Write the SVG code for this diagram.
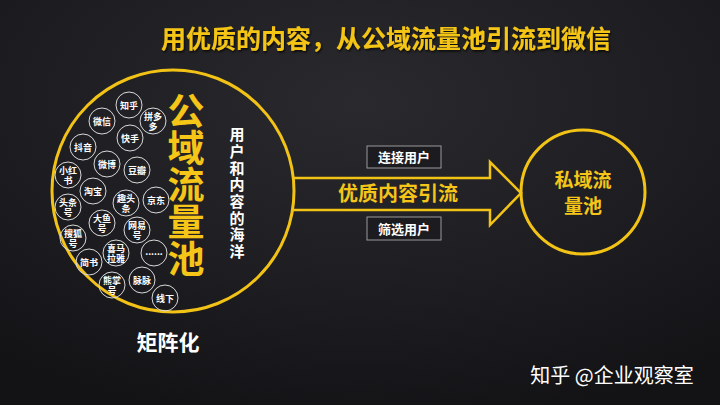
<svg xmlns="http://www.w3.org/2000/svg" width="720" height="405" viewBox="0 0 720 405">
<defs>
<radialGradient id="bg" cx="0.5" cy="0.25" r="0.8">
<stop offset="0" stop-color="#2a2a2e"/>
<stop offset="0.6" stop-color="#1d1d21"/>
<stop offset="1" stop-color="#131316"/>
</radialGradient>
<filter id="sh" x="-5%" y="-20%" width="110%" height="140%">
<feDropShadow dx="1" dy="1.5" stdDeviation="1" flood-color="#000" flood-opacity="0.8"/>
</filter>
</defs>
<style>
text{font-family:"Noto Sans CJK SC","Noto Sans",sans-serif;}
.y{fill:#f5c518;font-weight:bold;}
.w{fill:#ffffff;font-weight:bold;}
.sc{fill:none;stroke:#d8d8d8;stroke-width:1;}
.st{fill:#ffffff;font-weight:bold;font-size:9px;text-anchor:middle;}
.big{fill:none;stroke:#f2c316;stroke-width:3;}
.lab{fill:#1c1c20;stroke:#9a9a9a;stroke-width:1;}
.v{writing-mode:vertical-rl;}
</style>
<rect width="720" height="405" fill="url(#bg)"/>

<g id="title">
<text x="386" y="48" class="y" font-size="25" text-anchor="middle" filter="url(#sh)">用优质的内容，从公域流量池引流到微信</text>
</g>

<g id="connectors">
<path d="M292 178 H490 V162 L521 193 L490 225 V210 H292" fill="none" stroke="#f2c316" stroke-width="2.5" stroke-linejoin="miter"/>
</g>

<g id="public-pool">
<circle cx="173" cy="191" r="121" class="big"/>
<text x="186" y="92" class="y v" font-size="37">公域流量池</text>
<text x="237" y="127" class="w v" font-size="15" letter-spacing="1.7">用户和内容的海洋</text>
</g>

<g id="platforms">
<g id="p-zhihu"><circle cx="129" cy="105" r="13" class="sc"/><text x="129" y="108.5" class="st">知乎</text></g>
<g id="p-pdd"><circle cx="153" cy="121" r="13" class="sc"/><text x="153" y="119.5" class="st">拼多<tspan x="153" dy="10">多</tspan></text></g>
<g id="p-weixin"><circle cx="102" cy="121" r="13" class="sc"/><text x="102" y="124.5" class="st">微信</text></g>
<g id="p-kuaishou"><circle cx="130" cy="138" r="13" class="sc"/><text x="130" y="141.5" class="st">快手</text></g>
<g id="p-douyin"><circle cx="83" cy="147" r="13" class="sc"/><text x="83" y="150.5" class="st">抖音</text></g>
<g id="p-weibo"><circle cx="107" cy="164" r="13" class="sc"/><text x="107" y="167.5" class="st">微博</text></g>
<g id="p-douban"><circle cx="137" cy="170" r="13" class="sc"/><text x="137" y="173.5" class="st">豆瓣</text></g>
<g id="p-xhs"><circle cx="68" cy="175" r="13" class="sc"/><text x="68" y="173.5" class="st">小红<tspan x="68" dy="10">书</tspan></text></g>
<g id="p-taobao"><circle cx="93" cy="191" r="13" class="sc"/><text x="93" y="194.5" class="st">淘宝</text></g>
<g id="p-qutoutiao"><circle cx="126" cy="203" r="13" class="sc"/><text x="126" y="201.5" class="st">趣头<tspan x="126" dy="10">条</tspan></text></g>
<g id="p-jd"><circle cx="156" cy="200" r="13" class="sc"/><text x="156" y="203.5" class="st">京东</text></g>
<g id="p-toutiao"><circle cx="68" cy="207" r="13" class="sc"/><text x="68" y="205.5" class="st">头条<tspan x="68" dy="10">号</tspan></text></g>
<g id="p-dayu"><circle cx="102" cy="223" r="13" class="sc"/><text x="102" y="221.5" class="st">大鱼<tspan x="102" dy="10">号</tspan></text></g>
<g id="p-wangyi"><circle cx="137" cy="230" r="13" class="sc"/><text x="137" y="228.5" class="st">网易<tspan x="137" dy="10">号</tspan></text></g>
<g id="p-sohu"><circle cx="73" cy="238" r="13" class="sc"/><text x="73" y="236.5" class="st">搜狐<tspan x="73" dy="10">号</tspan></text></g>
<g id="p-ximalaya"><circle cx="116" cy="253" r="13" class="sc"/><text x="116" y="251.5" class="st">喜马<tspan x="116" dy="10">拉雅</tspan></text></g>
<g id="p-more"><circle cx="154" cy="253" r="13" class="sc"/><text x="154" y="255" class="st">......</text></g>
<g id="p-jianshu"><circle cx="89" cy="262" r="13" class="sc"/><text x="89" y="265.5" class="st">简书</text></g>
<g id="p-xiongzhang"><circle cx="112" cy="285" r="13" class="sc"/><text x="112" y="283.5" class="st">熊掌<tspan x="112" dy="10">号</tspan></text></g>
<g id="p-maimai"><circle cx="142" cy="280" r="13" class="sc"/><text x="142" y="283.5" class="st">脉脉</text></g>
<g id="p-offline"><circle cx="165" cy="298" r="13" class="sc"/><text x="165" y="301.5" class="st">线下</text></g>
</g>

<g id="label-connect">
<rect x="367" y="146" width="74" height="22" class="lab"/>
<text x="404" y="162" class="w" font-size="13" text-anchor="middle">连接用户</text>
</g>
<g id="label-main">
<text x="398" y="201" class="y" font-size="20" text-anchor="middle">优质内容引流</text>
</g>
<g id="label-filter">
<rect x="367" y="217" width="74" height="23" class="lab"/>
<text x="404" y="233.5" class="w" font-size="13" text-anchor="middle">筛选用户</text>
</g>

<g id="private-pool">
<circle cx="583" cy="192" r="62" class="big" stroke-width="2.5"/>
<text x="583" y="187" class="y" font-size="19" text-anchor="middle">私域流</text>
<text x="583" y="213" class="y" font-size="19" text-anchor="middle">量池</text>
</g>

<g id="matrix">
<text x="168" y="350" class="w" font-size="21" text-anchor="middle">矩阵化</text>
</g>

<g id="watermark">
<text x="612" y="383" fill="#ffffff" font-size="20" text-anchor="middle">知乎 @企业观察室</text>
</g>
</svg>
